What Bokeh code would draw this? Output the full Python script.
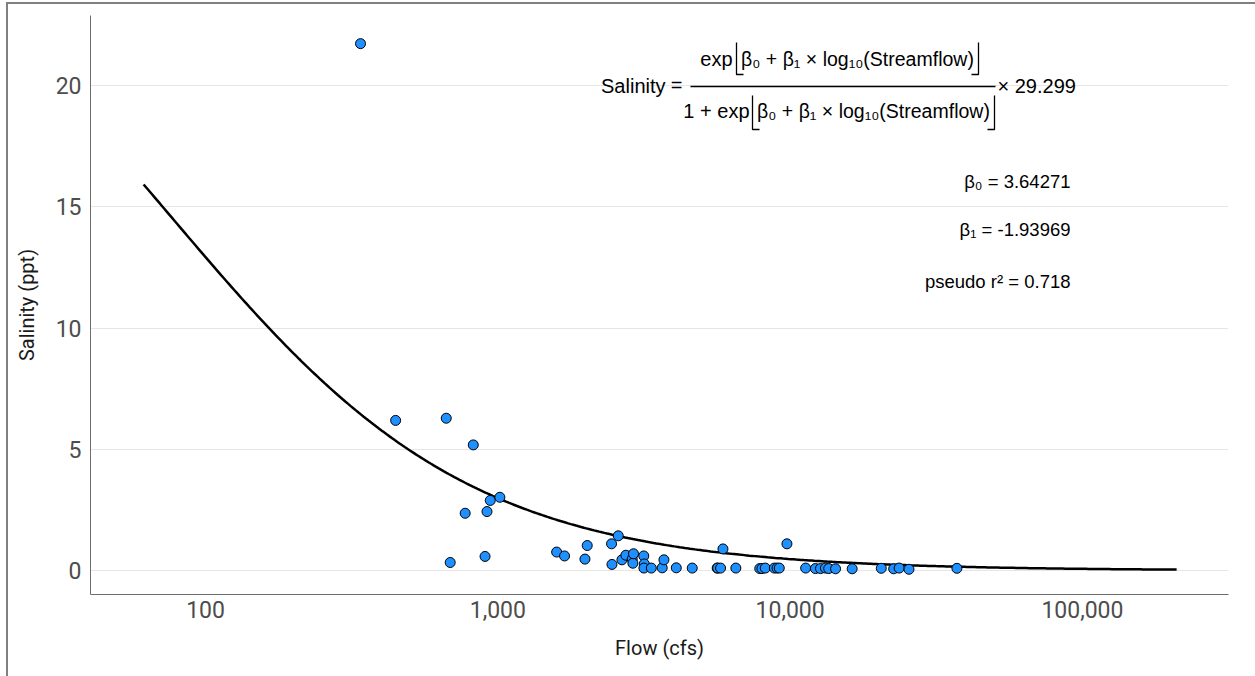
import numpy as np
from bokeh.plotting import figure
from bokeh.models import Range1d, Label, FixedTicker, NumeralTickFormatter, InlineStyleSheet
from bokeh.embed import file_html
from bokeh.resources import INLINE

# ---------------- data ----------------
flow_cfs = [339, 447, 666, 687, 773, 824, 904, 918, 942, 1016,
            1589, 1691, 1986, 2022, 2449, 2457, 2582, 2658, 2742, 2882,
            2897, 2911, 3156, 3170, 3160, 3350, 3650, 3700, 4078, 4624,
            5628, 5650, 5780, 5890, 6520, 7870, 8010, 8220, 8830, 9020,
            9180, 9750, 11300, 12200, 12700, 13200, 13550, 14300, 16300, 20500,
            22600, 23600, 25500, 37200]
salinity_ppt = [21.73, 6.19, 6.28, 0.33, 2.36, 5.18, 0.58, 2.43, 2.89, 3.02,
                0.76, 0.60, 0.47, 1.03, 1.10, 0.25, 1.43, 0.44, 0.63, 0.47,
                0.30, 0.69, 0.60, 0.27, 0.10, 0.10, 0.11, 0.44, 0.11, 0.10,
                0.10, 0.10, 0.10, 0.89, 0.10, 0.08, 0.08, 0.10, 0.10, 0.10,
                0.10, 1.10, 0.10, 0.08, 0.08, 0.10, 0.08, 0.07, 0.07, 0.09,
                0.07, 0.10, 0.05, 0.09]

beta0 = 3.64271
beta1 = -1.93969
salinity_max = 29.299
pseudo_r2 = 0.718
curve_flow_limits = (61.4, 210000)

x_ticks = [100, 1000, 10000, 100000]
y_ticks = [0, 5, 10, 15, 20]
x_limits = (40.4, 316000)
y_limits = (-0.99, 22.89)

# ---------------- layout ----------------
W, H = 1255, 676
FL, FT, FR, FB = 90, 15, 1228, 594   # frame edges in canvas px

def cx(px):
    """canvas pixel x -> data x (log axis)"""
    lo, hi = np.log10(x_limits[0]), np.log10(x_limits[1])
    return 10 ** (lo + (px - FL) / (FR - FL) * (hi - lo))

def cy(py):
    """canvas pixel y -> data y"""
    return y_limits[1] - (py - FT) / (FB - FT) * (y_limits[1] - y_limits[0])

p = figure(width=W, height=H, x_axis_type="log",
           x_range=Range1d(*x_limits), y_range=Range1d(*y_limits),
           output_backend="svg", toolbar_location=None,
           min_border_left=FL, min_border_top=FT,
           min_border_right=W - FR, min_border_bottom=H - FB)
p.outline_line_color = None
p.background_fill_color = "white"
p.border_fill_color = "white"
p.stylesheets = [InlineStyleSheet(css=(
    ":host::after{content:'';position:absolute;left:6px;top:2px;right:0;bottom:0;"
    "border-left:2px solid #808080;border-top:2px solid #808080;"
    "pointer-events:none;z-index:5;}"))]

p.xgrid.grid_line_color = None
p.ygrid.grid_line_color = "#e6e6e6"
p.ygrid.grid_line_width = 1

p.xaxis.ticker = FixedTicker(ticks=x_ticks)
p.xaxis.formatter = NumeralTickFormatter(format="0,0")
p.yaxis.ticker = FixedTicker(ticks=y_ticks)

for ax in (p.xaxis[0], p.yaxis[0]):
    ax.axis_line_color = "#6e6e6e"
    ax.axis_line_width = 1
    ax.major_tick_line_color = None
    ax.minor_tick_line_color = None
    ax.major_tick_out = 0
    ax.major_tick_in = 0
    ax.minor_tick_out = 0
    ax.minor_tick_in = 0
    ax.major_label_text_font = "Roboto"
    ax.major_label_text_font_size = "23px"
    ax.major_label_text_color = "#4d4d4d"
    ax.axis_label_text_font = "Roboto"
    ax.axis_label_text_font_size = "20px"
    ax.axis_label_text_font_style = "normal"
    ax.axis_label_text_color = "#1a1a1a"

p.xaxis.axis_label = "Flow (cfs)"
p.yaxis.axis_label = "Salinity (ppt)"
p.xaxis.major_label_standoff = 6
p.xaxis.axis_label_standoff = 15
p.yaxis.major_label_standoff = 9
p.yaxis.axis_label_standoff = 14

# fitted curve from the shown coefficients
q = np.logspace(np.log10(curve_flow_limits[0]), np.log10(curve_flow_limits[1]), 400)
z = beta0 + beta1 * np.log10(q)
s = np.exp(z) / (1 + np.exp(z)) * salinity_max
p.line(q, s, line_color="black", line_width=2.5)

p.scatter(flow_cfs, salinity_ppt, size=10, fill_color="#1E90FF",
          line_color="black", line_width=1)

# ---------------- equation annotation ----------------
EQ_FONT = "Liberation Sans"
DY = -7  # baseline correction

def lab(text, px, py, size, align="left", font=EQ_FONT):
    p.add_layout(Label(x=cx(px), y=cy(py + DY), text=text, text_align=align,
                       text_baseline="alphabetic", text_font=font,
                       text_font_size=size, text_color="black"))

inner = "\u03b2\u2080 + \u03b2\u2081 \u00d7 log\u2081\u2080(Streamflow)"
lab("Salinity", 665, 92, "20px", align="right")
lab("=", 676, 91, "20px", align="center")
lab("exp", 732, 65, "20px", align="right")
lab(inner, 857, 65, "19.5px", align="center")
lab("1 + exp", 749, 117, "20px", align="right")
lab(inner, 873, 117, "19.5px", align="center")
lab("\u00d7 29.299", 997, 92, "20px")

lab("\u03b2\u2080 = %.5f" % beta0, 1070, 188, "18.5px", align="right")
lab("\u03b2\u2081 = %.5f" % beta1, 1070, 236, "18.5px", align="right")
lab("pseudo r\u00b2 = %.3f" % pseudo_r2, 1070, 288, "18.5px", align="right")

# brackets and fraction bar (equation drawing, canvas-pixel layout)
brackets = [  # (x, top, bottom, foot_dir)
    (736, 42, 74, 1), (978, 42, 74, -1),
    (752, 95, 129, 1), (994, 95, 129, -1),
]
bx, by = [], []
for x0, t, b, d in brackets:
    bx.append([cx(x0), cx(x0), cx(x0 + 7 * d)])
    by.append([cy(t), cy(b), cy(b)])
p.multi_line(bx, by, line_color="black", line_width=1.3)
p.line([cx(690), cx(995)], [cy(86), cy(86)], line_color="black", line_width=1.5)

open("out.html", "w").write(file_html(p, INLINE))
